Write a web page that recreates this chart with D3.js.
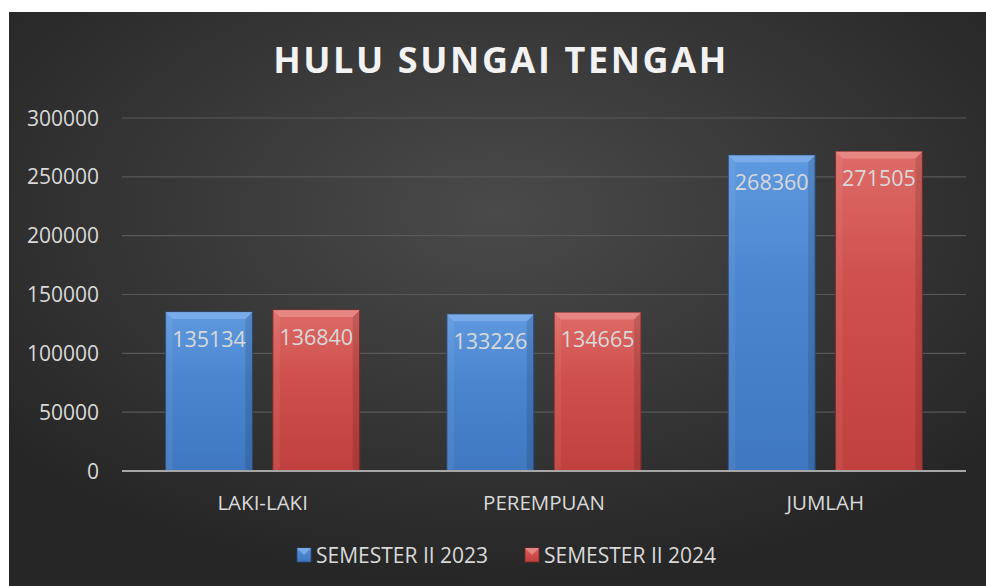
<!DOCTYPE html>
<html>
<head>
<meta charset="utf-8">
<script src="https://cdn.jsdelivr.net/npm/d3@7"></script>
<style>
  html, body { margin: 0; padding: 0; background: #fff; }
  svg { display: block; }
</style>
</head>
<body>
<svg id="chart" width="986" height="586"></svg>
<script>
var categories = ["LAKI-LAKI", "PEREMPUAN", "JUMLAH"];
var seriesNames = ["SEMESTER II 2023", "SEMESTER II 2024"];
var values2023 = [135134, 133226, 268360];
var values2024 = [136840, 134665, 271505];
var yTicks = [0, 50000, 100000, 150000, 200000, 250000, 300000];

var WIDTH = 986, HEIGHT = 586;
var MARGINS = {top: 118, right: 20, bottom: 115, left: 122};
var fontFam = "'Open Sans', 'DejaVu Sans', sans-serif";

var svg = d3.select('#chart');
var defs = svg.append('defs');

// dark background, lighter towards the middle
var bg = defs.append('radialGradient').attr('id', 'bgGrad')
    .attr('cx', '50%').attr('cy', '35%').attr('r', '65%');
bg.append('stop').attr('offset', '0%').attr('stop-color', '#4a4a4a');
bg.append('stop').attr('offset', '100%').attr('stop-color', '#262626');

var colors = [
  {id: 'blue', top: '#5f9ae0', mid: '#4b86cf', bot: '#3f78c0', edge: '#2b4c7a', bevel: '#7fb0ea'},
  {id: 'red', top: '#dd6b67', mid: '#cf504d', bot: '#c0403d', edge: '#7a2a28', bevel: '#ea8f8b'}
];
colors.forEach(function(c){
  var g = defs.append('linearGradient').attr('id', 'grad-' + c.id)
      .attr('x1', 0).attr('y1', 0).attr('x2', 0).attr('y2', 1);
  g.append('stop').attr('offset', '0%').attr('stop-color', c.top);
  g.append('stop').attr('offset', '40%').attr('stop-color', c.mid);
  g.append('stop').attr('offset', '100%').attr('stop-color', c.bot);
});

svg.append('rect')
    .attr('x', 9).attr('y', 12)
    .attr('width', WIDTH - 9).attr('height', HEIGHT - 12)
    .attr('fill', 'url(#bgGrad)');

var xBand = d3.scaleBand()
    .domain(categories)
    .range([MARGINS.left, WIDTH - MARGINS.right])
    .paddingInner(0.31)
    .paddingOuter(0.155);
var xSub = d3.scaleBand()
    .domain([0, 1])
    .range([0, xBand.bandwidth()])
    .paddingInner(0.19);
var yScale = d3.scaleLinear()
    .domain([0, 300000])
    .range([HEIGHT - MARGINS.bottom, MARGINS.top]);

// title
svg.append('text')
    .attr('x', 501).attr('y', 73)
    .attr('text-anchor', 'middle')
    .style('font-family', fontFam)
    .style('font-weight', 'bold')
    .style('font-size', '36px')
    .style('letter-spacing', '2.6px')
    .attr('fill', '#f2f2f2')
    .text('HULU SUNGAI TENGAH');

// gridlines
svg.append('g').selectAll('line')
    .data(yTicks.filter(function(d){ return d > 0; }))
    .enter().append('line')
    .attr('x1', MARGINS.left).attr('x2', WIDTH - MARGINS.right)
    .attr('y1', function(d){ return yScale(d); })
    .attr('y2', function(d){ return yScale(d); })
    .attr('stroke', '#585858').attr('stroke-width', 1.2);

// y tick labels
svg.append('g').selectAll('text')
    .data(yTicks)
    .enter().append('text')
    .attr('x', 99)
    .attr('y', function(d){ return yScale(d); })
    .attr('dy', '0.36em')
    .attr('text-anchor', 'end')
    .style('font-family', fontFam)
    .style('font-size', '21px')
    .attr('fill', '#d9d9d9')
    .text(function(d){ return d; });

// bars
var series = [values2023, values2024];
series.forEach(function(vals, s){
  var c = colors[s];
  var g = svg.append('g');
  categories.forEach(function(cat, i){
    var x = xBand(cat) + xSub(s);
    var w = xSub.bandwidth();
    var y = yScale(vals[i]);
    var h = yScale(0) - y;
    var b = 7;
    g.append('rect')
        .attr('x', x).attr('y', y).attr('width', w).attr('height', h)
        .attr('fill', 'url(#grad-' + c.id + ')')
        .attr('stroke', c.edge).attr('stroke-width', 1);
    // bevel on top
    g.append('path')
        .attr('d', 'M' + x + ',' + y + 'L' + (x + w) + ',' + y + 'L' + (x + w - b) + ',' + (y + b) +
              'L' + (x + b) + ',' + (y + b) + 'Z')
        .attr('fill', c.bevel).attr('opacity', 0.8);
    // side shading
    g.append('path')
        .attr('d', 'M' + (x + w) + ',' + y + 'L' + (x + w - b) + ',' + (y + b) + 'L' + (x + w - b) + ',' + (y + h - 2) +
              'L' + (x + w) + ',' + (y + h) + 'Z')
        .attr('fill', '#000').attr('opacity', 0.12);
    g.append('path')
        .attr('d', 'M' + x + ',' + y + 'L' + (x + b) + ',' + (y + b) + 'L' + (x + b) + ',' + (y + h - 2) +
              'L' + x + ',' + (y + h) + 'Z')
        .attr('fill', '#fff').attr('opacity', 0.06);
    g.append('text')
        .attr('x', x + w / 2).attr('y', y + 27)
        .attr('dy', '0.36em')
        .attr('text-anchor', 'middle')
        .style('font-family', fontFam)
        .style('font-size', '21.5px')
        .attr('fill', '#d9d9d9')
        .text(vals[i]);
  });
});

// zero axis
svg.append('line')
    .attr('x1', MARGINS.left).attr('x2', WIDTH - MARGINS.right)
    .attr('y1', yScale(0)).attr('y2', yScale(0))
    .attr('stroke', '#a6a6a6').attr('stroke-width', 2);

// category labels
svg.append('g').selectAll('text')
    .data(categories)
    .enter().append('text')
    .attr('x', function(d){ return xBand(d) + xBand.bandwidth() / 2; })
    .attr('y', 503)
    .attr('dy', '0.36em')
    .attr('text-anchor', 'middle')
    .style('font-family', fontFam)
    .style('font-size', '20.5px')
    .attr('fill', '#d9d9d9')
    .text(function(d){ return d; });

// legend
var legendX = [297, 525];
seriesNames.forEach(function(name, s){
  var c = colors[s];
  var lg = svg.append('g').attr('transform', 'translate(' + legendX[s] + ',548)');
  lg.append('rect').attr('width', 14).attr('height', 14)
      .attr('fill', 'url(#grad-' + c.id + ')')
      .attr('stroke', c.edge).attr('stroke-width', 0.8);
  lg.append('path').attr('d', 'M0,0L14,0L7,7Z').attr('fill', c.bevel).attr('opacity', 0.8);
  lg.append('text')
      .attr('x', 19).attr('y', 7)
      .attr('dy', '0.36em')
      .style('font-family', fontFam)
      .style('font-size', '21px')
      .attr('fill', '#d9d9d9')
      .text(name);
});
</script>
</body>
</html>
